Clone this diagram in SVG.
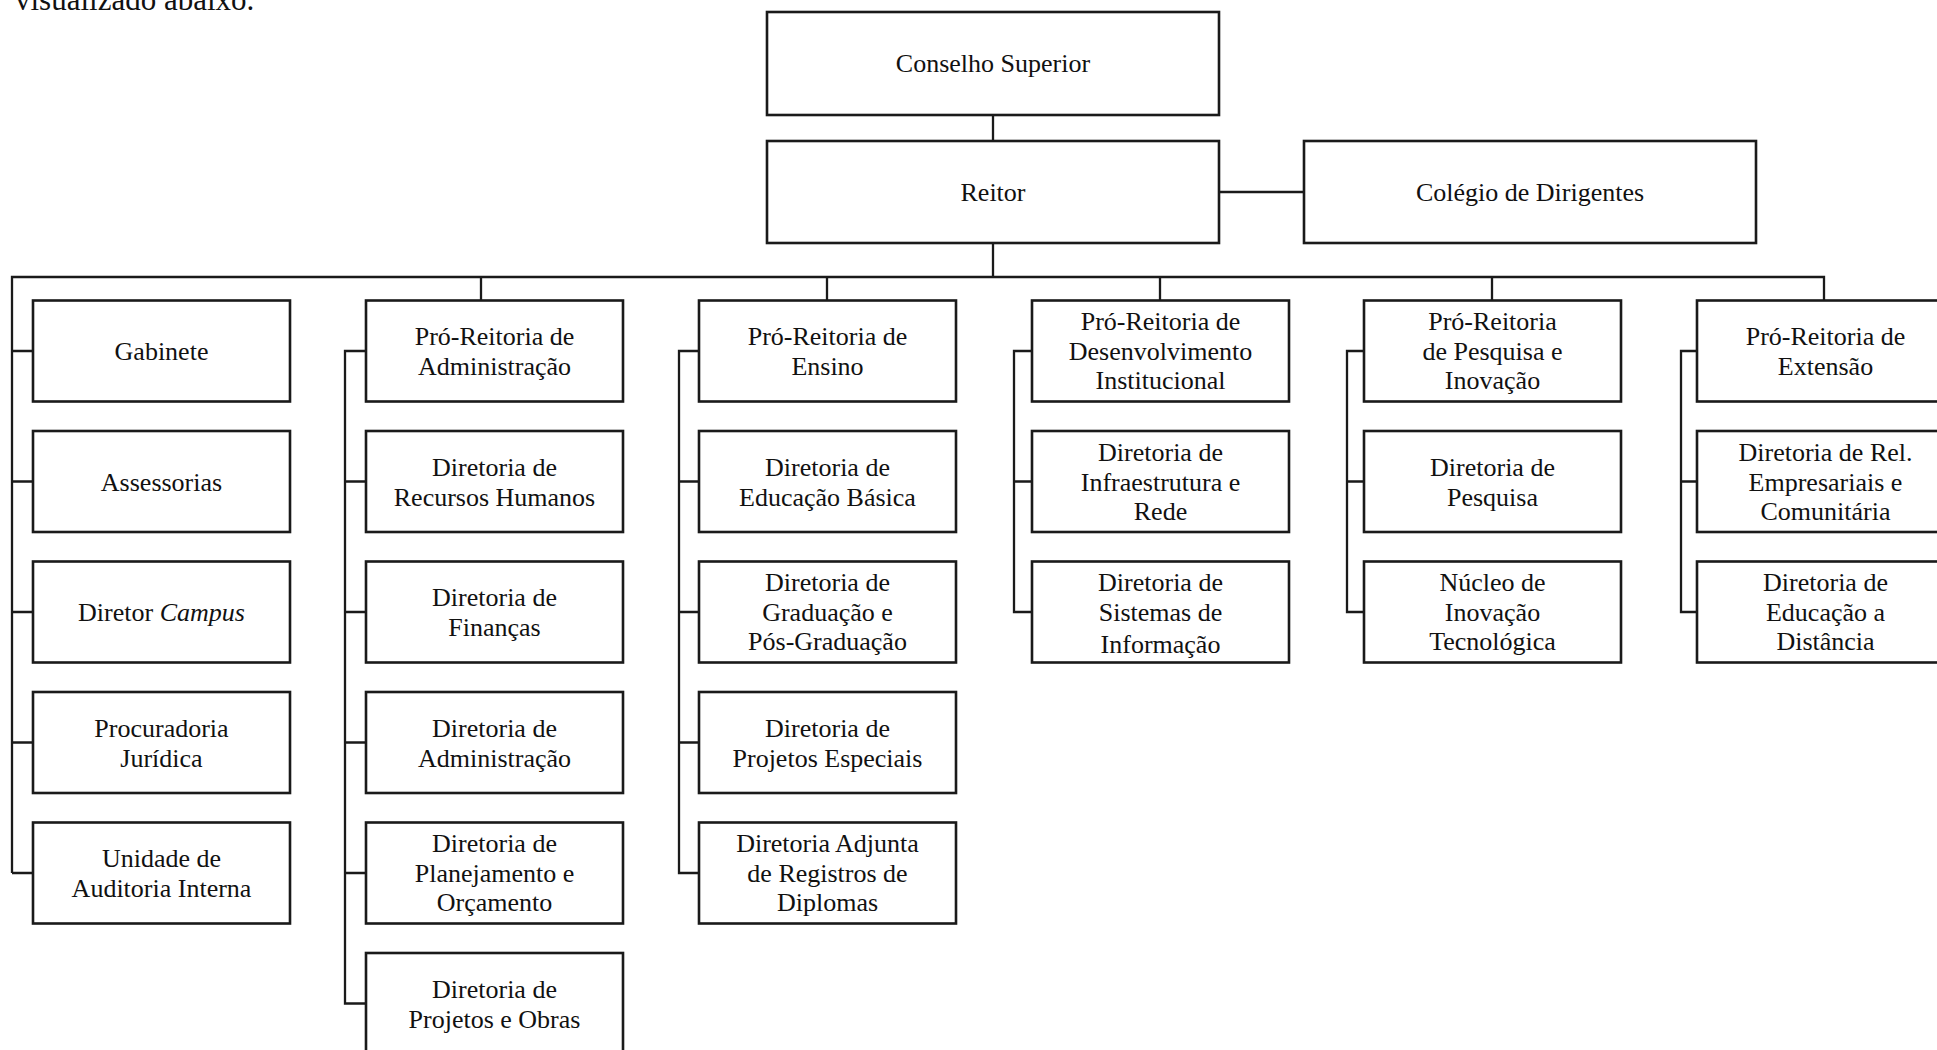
<svg xmlns="http://www.w3.org/2000/svg" width="1937" height="1050" viewBox="0 0 1937 1050">
<style>
  .bg { fill: #ffffff; }
  .box { fill: #ffffff; stroke: #1a1a1a; stroke-width: 2.6; }
  .ln { fill: none; stroke: #1a1a1a; stroke-width: 2.3; }
  text { font-family: "Liberation Serif", "Times New Roman", serif; font-size: 26px; fill: #111111; text-anchor: middle; }
  .cap { font-size: 31px; text-anchor: start; }
</style>
<rect class="bg" x="0" y="0" width="1937" height="1050"/>
<text class="cap" x="15" y="10">visualizado abaixo.</text>

<g id="connectors">
  <path class="ln" d="M993 115 V141"/>
  <path class="ln" d="M1219 192 H1304"/>
  <path class="ln" d="M993 243 V277"/>
  <path class="ln" d="M12 873 V277 H1824 V300.5"/>
  <path class="ln" d="M481 277 V300.5 M827 277 V300.5 M1160 277 V300.5 M1492 277 V300.5"/>
  <!-- col1 ticks -->
  <path class="ln" d="M12 351 H33 M12 481.5 H33 M12 612 H33 M12 742.5 H33 M12 873 H33"/>
  <!-- col2 -->
  <path class="ln" d="M366 351 H345 V1003.5 H366 M345 481.5 H366 M345 612 H366 M345 742.5 H366 M345 873 H366"/>
  <!-- col3 -->
  <path class="ln" d="M699 351 H679 V873 H699 M679 481.5 H699 M679 612 H699 M679 742.5 H699"/>
  <!-- col4 -->
  <path class="ln" d="M1032 351 H1014 V612 H1032 M1014 481.5 H1032"/>
  <!-- col5 -->
  <path class="ln" d="M1364 351 H1347 V612 H1364 M1347 481.5 H1364"/>
  <!-- col6 -->
  <path class="ln" d="M1697 351 H1681 V612 H1697 M1681 481.5 H1697"/>
</g>

<g id="conselho"><rect class="box" x="767" y="12" width="452" height="103"/><text x="993" y="72">Conselho Superior</text></g>
<g id="reitor"><rect class="box" x="767" y="141" width="452" height="102"/><text x="993" y="201">Reitor</text></g>
<g id="colegio"><rect class="box" x="1304" y="141" width="452" height="102"/><text x="1530" y="201">Colégio de Dirigentes</text></g>

<!-- Column 1 -->
<g id="gabinete"><rect class="box" x="33" y="300.5" width="257" height="101"/><text x="161.5" y="360">Gabinete</text></g>
<g id="assessorias"><rect class="box" x="33" y="431" width="257" height="101"/><text x="161.5" y="490.5">Assessorias</text></g>
<g id="diretor-campus"><rect class="box" x="33" y="561.5" width="257" height="101"/><text x="161.5" y="621">Diretor <tspan font-style="italic">Campus</tspan></text></g>
<g id="procuradoria"><rect class="box" x="33" y="692" width="257" height="101"/><text x="161.5" y="736.5">Procuradoria</text><text x="161.5" y="766.5">Jurídica</text></g>
<g id="auditoria"><rect class="box" x="33" y="822.5" width="257" height="101"/><text x="161.5" y="867">Unidade de</text><text x="161.5" y="897">Auditoria Interna</text></g>

<!-- Column 2 -->
<g id="pr-administracao"><rect class="box" x="366" y="300.5" width="257" height="101"/><text x="494.5" y="345">Pró-Reitoria de</text><text x="494.5" y="375">Administração</text></g>
<g id="dir-rh"><rect class="box" x="366" y="431" width="257" height="101"/><text x="494.5" y="475.5">Diretoria de</text><text x="494.5" y="505.5">Recursos Humanos</text></g>
<g id="dir-financas"><rect class="box" x="366" y="561.5" width="257" height="101"/><text x="494.5" y="606">Diretoria de</text><text x="494.5" y="636">Finanças</text></g>
<g id="dir-administracao"><rect class="box" x="366" y="692" width="257" height="101"/><text x="494.5" y="736.5">Diretoria de</text><text x="494.5" y="766.5">Administração</text></g>
<g id="dir-planejamento"><rect class="box" x="366" y="822.5" width="257" height="101"/><text x="494.5" y="852">Diretoria de</text><text x="494.5" y="882">Planejamento e</text><text x="494.5" y="911">Orçamento</text></g>
<g id="dir-projetos-obras"><rect class="box" x="366" y="953" width="257" height="101"/><text x="494.5" y="997.5">Diretoria de</text><text x="494.5" y="1027.5">Projetos e Obras</text></g>

<!-- Column 3 -->
<g id="pr-ensino"><rect class="box" x="699" y="300.5" width="257" height="101"/><text x="827.5" y="345">Pró-Reitoria de</text><text x="827.5" y="375">Ensino</text></g>
<g id="dir-educacao-basica"><rect class="box" x="699" y="431" width="257" height="101"/><text x="827.5" y="475.5">Diretoria de</text><text x="827.5" y="505.5">Educação Básica</text></g>
<g id="dir-graduacao"><rect class="box" x="699" y="561.5" width="257" height="101"/><text x="827.5" y="591">Diretoria de</text><text x="827.5" y="621">Graduação e</text><text x="827.5" y="650">Pós-Graduação</text></g>
<g id="dir-projetos-especiais"><rect class="box" x="699" y="692" width="257" height="101"/><text x="827.5" y="736.5">Diretoria de</text><text x="827.5" y="766.5">Projetos Especiais</text></g>
<g id="dir-diplomas"><rect class="box" x="699" y="822.5" width="257" height="101"/><text x="827.5" y="852">Diretoria Adjunta</text><text x="827.5" y="882">de Registros de</text><text x="827.5" y="911">Diplomas</text></g>

<!-- Column 4 -->
<g id="pr-desenvolvimento"><rect class="box" x="1032" y="300.5" width="257" height="101"/><text x="1160.5" y="330">Pró-Reitoria de</text><text x="1160.5" y="360">Desenvolvimento</text><text x="1160.5" y="389">Institucional</text></g>
<g id="dir-infraestrutura"><rect class="box" x="1032" y="431" width="257" height="101"/><text x="1160.5" y="460.5">Diretoria de</text><text x="1160.5" y="490.5">Infraestrutura e</text><text x="1160.5" y="519.5">Rede</text></g>
<g id="dir-sistemas"><rect class="box" x="1032" y="561.5" width="257" height="101"/><text x="1160.5" y="591">Diretoria de</text><text x="1160.5" y="621">Sistemas de</text><text x="1160.5" y="653">Informação</text></g>

<!-- Column 5 -->
<g id="pr-pesquisa"><rect class="box" x="1364" y="300.5" width="257" height="101"/><text x="1492.5" y="330">Pró-Reitoria</text><text x="1492.5" y="360">de Pesquisa e</text><text x="1492.5" y="389">Inovação</text></g>
<g id="dir-pesquisa"><rect class="box" x="1364" y="431" width="257" height="101"/><text x="1492.5" y="475.5">Diretoria de</text><text x="1492.5" y="505.5">Pesquisa</text></g>
<g id="nit"><rect class="box" x="1364" y="561.5" width="257" height="101"/><text x="1492.5" y="591">Núcleo de</text><text x="1492.5" y="621">Inovação</text><text x="1492.5" y="650">Tecnológica</text></g>

<!-- Column 6 -->
<g id="pr-extensao"><rect class="box" x="1697" y="300.5" width="257" height="101"/><text x="1825.5" y="345">Pró-Reitoria de</text><text x="1825.5" y="375">Extensão</text></g>
<g id="dir-rel-empresariais"><rect class="box" x="1697" y="431" width="257" height="101"/><text x="1825.5" y="460.5">Diretoria de Rel.</text><text x="1825.5" y="490.5">Empresariais e</text><text x="1825.5" y="519.5">Comunitária</text></g>
<g id="dir-ead"><rect class="box" x="1697" y="561.5" width="257" height="101"/><text x="1825.5" y="591">Diretoria de</text><text x="1825.5" y="621">Educação a</text><text x="1825.5" y="650">Distância</text></g>
</svg>
